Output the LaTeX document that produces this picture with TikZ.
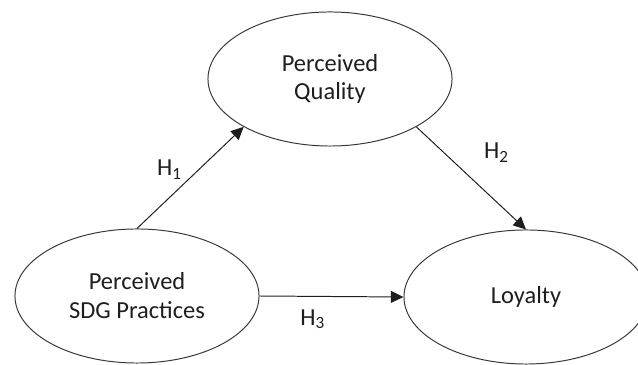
\documentclass[tikz,border=0pt]{standalone}
\usepackage{fontspec}
\setmainfont{Carlito}
\usepackage{tikz}
\usetikzlibrary{positioning,arrows.meta,shapes.geometric}
\usepackage{xcolor}
\definecolor{inkgray}{RGB}{30,30,30}
\definecolor{edgegray}{RGB}{55,55,55}

\begin{document}
\begin{tikzpicture}[x=0.025cm,y=-0.025cm,
  construct/.style={ellipse,draw=edgegray,line width=0.7pt,text=inkgray,
    font=\fontsize{17.4}{20.5}\selectfont,align=center,
    minimum width=6.1cm,minimum height=3.35cm,inner sep=0pt},
  hypo/.style={draw=inkgray,line width=0.7pt,-{Triangle[length=9pt,width=8.5pt]}},
  hlabel/.style={font=\fontsize{17.4}{20.5}\selectfont,text=inkgray,inner sep=2pt}]
\useasboundingbox (0,0) rectangle (638,365);
\node[construct] (quality) at (330,79) {Perceived\\Quality};
\node[construct] (sdg) at (137,296) {Perceived\\SDG Practices};
\node[construct] (loyalty) at (526,297) {Loyalty};

\draw[hypo] (sdg.north) -- node[hlabel,pos=.45,above left] {H\textsubscript{1}} (quality.209);
\draw[hypo] (quality.331) -- node[hlabel,pos=.42,above right=3pt and 13pt] {H\textsubscript{2}} (loyalty.north);
\draw[hypo] (sdg.east) -- node[hlabel,pos=.37,below=7pt] {H\textsubscript{3}} (loyalty.west);
\end{tikzpicture}
\end{document}
